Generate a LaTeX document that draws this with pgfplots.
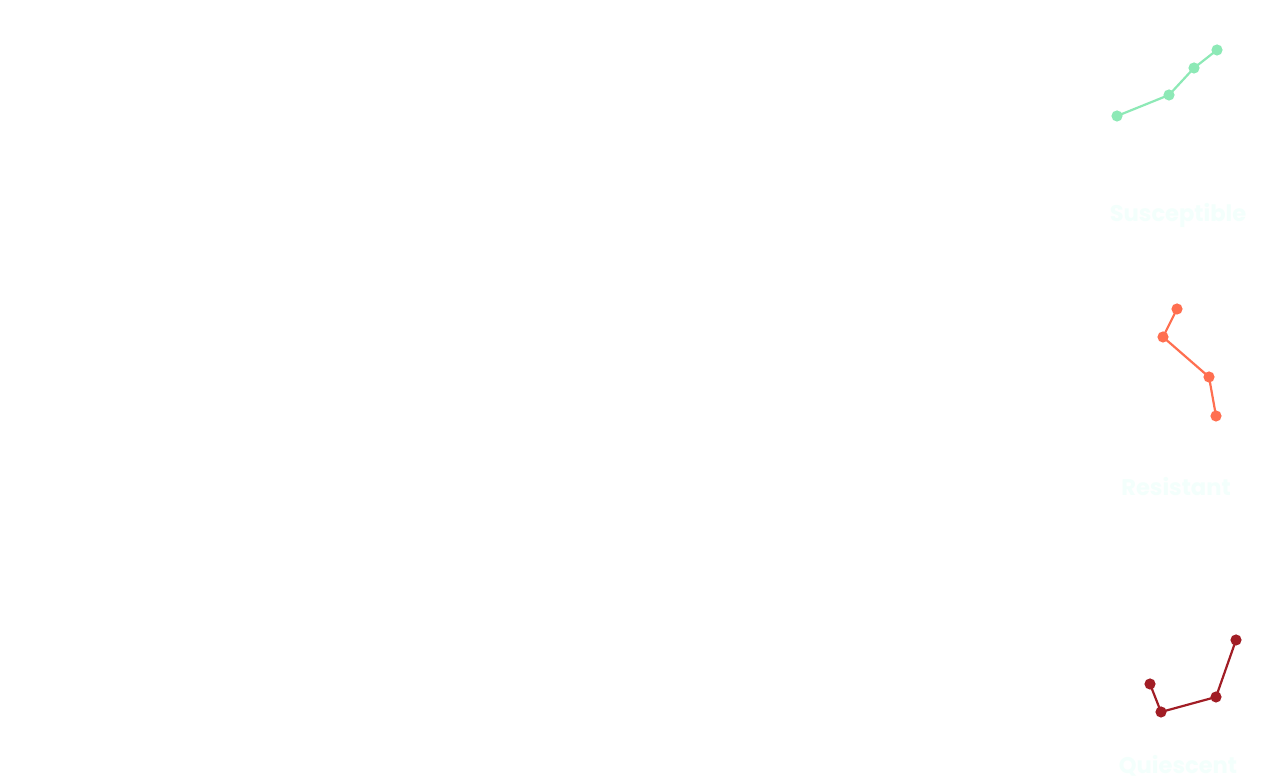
\documentclass[border=0pt]{standalone}
\usepackage{fontspec}
\setmainfont{Poppins}
\usepackage{pgfplots}
\pgfplotsset{compat=1.18}
\definecolor{cS}{HTML}{8DE9B6}
\definecolor{cR}{HTML}{FF6F50}
\definecolor{cQ}{HTML}{A11D25}
\definecolor{lbl}{HTML}{F3FFFC}
\begin{document}
\begin{tikzpicture}
\begin{axis}[
  scale only axis, width=635pt, height=390pt,
  xmin=0, xmax=1270, ymin=0, ymax=780,
  axis lines=none, clip=false,
  axis background/.style={fill=white},
  every axis plot/.append style={line width=1.1pt, mark=*, mark size=2.2pt},
]
\addplot[color=cS, mark options={fill=cS, draw=cS}] coordinates {(1117,664) (1169,685) (1194,712) (1217,730)};
\addplot[color=cR, mark options={fill=cR, draw=cR}] coordinates {(1177,471) (1163,443) (1209,403) (1216,364)};
\addplot[color=cQ, mark options={fill=cQ, draw=cQ}] coordinates {(1150,96) (1161,68) (1216,83) (1236,140)};
\node[overlay, text=lbl, font=\bfseries\fontsize{11.3}{13}\selectfont] at (axis cs:1178,565) {Susceptible};
\node[overlay, text=lbl, font=\bfseries\fontsize{11.3}{13}\selectfont] at (axis cs:1176,293) {Resistant};
\node[overlay, text=lbl, font=\bfseries\fontsize{11.3}{13}\selectfont] at (axis cs:1178,14) {Quiescent};
\end{axis}
\end{tikzpicture}
\end{document}
